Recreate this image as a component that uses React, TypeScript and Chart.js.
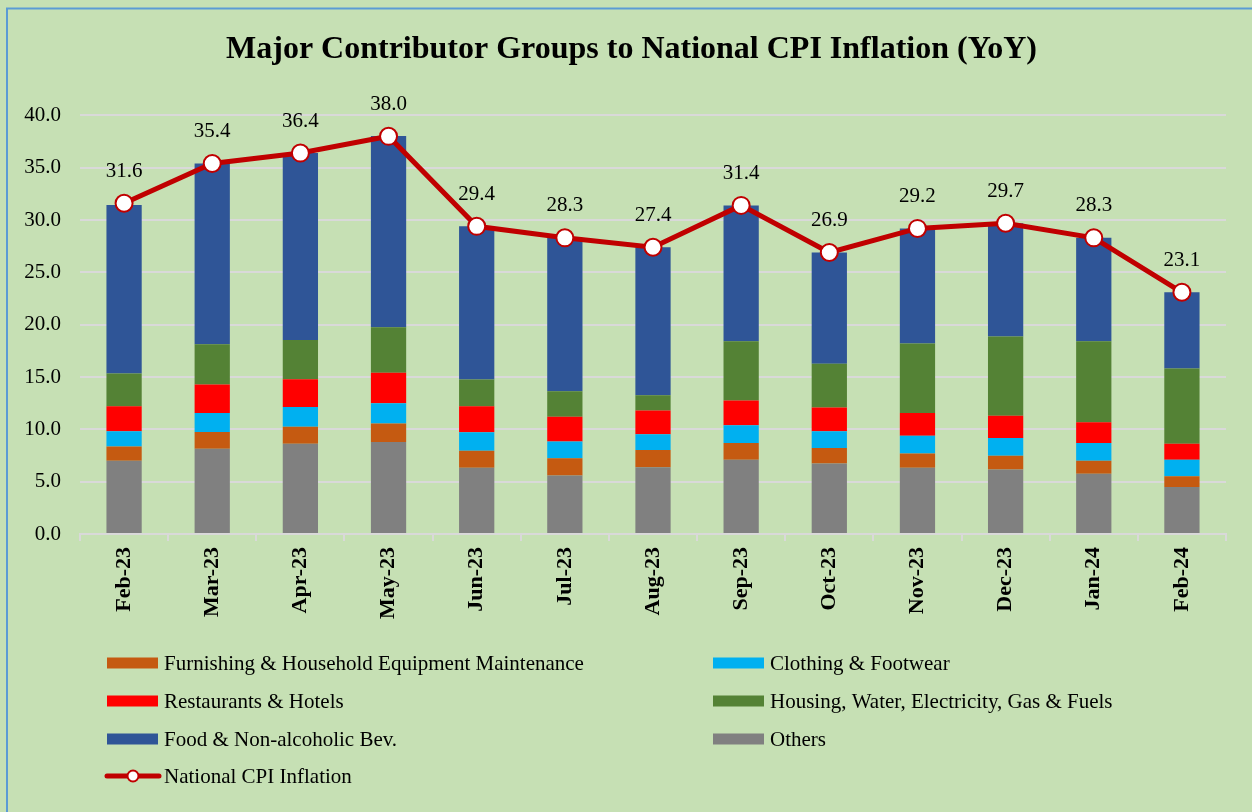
import React, { useEffect, useRef } from "react";
import { Chart, registerables } from "chart.js";

Chart.register(...registerables);

const categories = ["Feb-23", "Mar-23", "Apr-23", "May-23", "Jun-23", "Jul-23", "Aug-23", "Sep-23", "Oct-23", "Nov-23", "Dec-23", "Jan-24", "Feb-24"];
const others = [7.0, 8.15, 8.63, 8.79, 6.33, 5.59, 6.39, 7.09, 6.74, 6.33, 6.17, 5.75, 4.5];
const furnishing = [1.37, 1.6, 1.63, 1.76, 1.63, 1.66, 1.63, 1.6, 1.47, 1.37, 1.31, 1.25, 1.03];
const clothing = [1.44, 1.82, 1.88, 1.95, 1.76, 1.6, 1.5, 1.69, 1.6, 1.69, 1.69, 1.69, 1.56];
const restaurants = [2.4, 2.72, 2.65, 2.91, 2.49, 2.36, 2.27, 2.37, 2.27, 2.18, 2.14, 1.98, 1.54];
const housing = [3.13, 3.83, 3.74, 4.35, 2.56, 2.43, 1.47, 5.68, 4.18, 6.64, 7.57, 7.76, 7.18];
const food = [16.1, 17.28, 17.87, 18.26, 14.64, 14.66, 14.14, 12.97, 10.64, 10.99, 10.82, 9.87, 7.29];
const cpi = [31.6, 35.4, 36.4, 38.0, 29.4, 28.3, 27.4, 31.4, 26.9, 29.2, 29.7, 28.3, 23.1];

const yTicks = [0, 5, 10, 15, 20, 25, 30, 35, 40];

const TITLE = "Major Contributor Groups to National CPI Inflation (YoY)";
const SERIF = '"Liberation Serif", "Times New Roman", Times, serif';
const BG = "#C6E0B4";

const LABELS = {
  others: "Others",
  furnishing: "Furnishing & Household Equipment Maintenance",
  clothing: "Clothing & Footwear",
  restaurants: "Restaurants & Hotels",
  housing: "Housing, Water, Electricity, Gas & Fuels",
  food: "Food & Non-alcoholic Bev.",
  cpi: "National CPI Inflation",
};

const COLORS = {
  others: "#808080",
  furnishing: "#C55A11",
  clothing: "#00B0F0",
  restaurants: "#FF0000",
  housing: "#548235",
  food: "#2F5597",
  cpi: "#C00000",
};

// legend layout: [dataset index] in reading order (two columns)
const legendOrder = [1, 2, 3, 4, 5, 0, 6];

const bgPlugin = {
  id: "bgBorder",
  beforeDraw(chart: any) {
    const { ctx, width, height } = chart;
    ctx.save();
    ctx.fillStyle = BG;
    ctx.fillRect(0, 0, width, height);
    ctx.strokeStyle = "#5B9BD5";
    ctx.lineWidth = 2;
    ctx.beginPath();
    ctx.moveTo(7, height);
    ctx.lineTo(7, 8.5);
    ctx.lineTo(width, 8.5);
    ctx.stroke();
    ctx.restore();
  },
};

const dataLabelPlugin = {
  id: "cpiLabels",
  afterDatasetsDraw(chart: any) {
    const { ctx } = chart;
    const idx = chart.data.datasets.findIndex((d: any) => d.type === "line");
    const meta = chart.getDatasetMeta(idx);
    const values = chart.data.datasets[idx].data;
    ctx.save();
    ctx.fillStyle = "#000";
    ctx.font = `21px ${SERIF}`;
    ctx.textAlign = "center";
    ctx.textBaseline = "middle";
    meta.data.forEach((pt: any, i: number) => {
      ctx.fillText(Number(values[i]).toFixed(1), pt.x, pt.y - 32);
    });
    ctx.restore();
  },
};

const legendPlugin = {
  id: "gridLegend",
  afterDraw(chart: any) {
    const { ctx } = chart;
    const colX = [107, 713];
    const rowY = [663, 701, 739, 776];
    ctx.save();
    ctx.font = `21px ${SERIF}`;
    ctx.textBaseline = "middle";
    ctx.textAlign = "left";
    legendOrder.forEach((dsIndex, k) => {
      const ds = chart.data.datasets[dsIndex];
      const x = colX[k % 2];
      const y = rowY[Math.floor(k / 2)];
      if (ds.type === "line") {
        ctx.strokeStyle = ds.borderColor;
        ctx.lineWidth = 5;
        ctx.lineCap = "round";
        ctx.beginPath();
        ctx.moveTo(x, y);
        ctx.lineTo(x + 52, y);
        ctx.stroke();
        ctx.beginPath();
        ctx.arc(x + 26, y, 5.5, 0, Math.PI * 2);
        ctx.fillStyle = "#FFFFFF";
        ctx.fill();
        ctx.lineWidth = 2;
        ctx.stroke();
      } else {
        ctx.fillStyle = ds.backgroundColor;
        ctx.fillRect(x, y - 5.5, 51, 11);
      }
      ctx.fillStyle = "#000";
      ctx.fillText(ds.label, x + 57, y + 1);
    });
    ctx.restore();
  },
};

function barSet(key: keyof typeof LABELS, data: number[]) {
  return {
    type: "bar" as const,
    label: LABELS[key],
    data,
    backgroundColor: COLORS[key],
    borderWidth: 0,
    stack: "groups",
    order: 2,
    categoryPercentage: 1,
    barPercentage: 0.4,
  };
}

export default function App() {
  const canvasRef = useRef<HTMLCanvasElement | null>(null);

  useEffect(() => {
    document.body.style.margin = "0";
    document.body.style.background = BG;
    const canvas = canvasRef.current;
    if (!canvas) return;
    const chart = new Chart(canvas, {
      data: {
        labels: categories,
        datasets: [
          barSet("others", others),
          barSet("furnishing", furnishing),
          barSet("clothing", clothing),
          barSet("restaurants", restaurants),
          barSet("housing", housing),
          barSet("food", food),
          {
            type: "line" as const,
            label: LABELS.cpi,
            data: cpi,
            borderColor: COLORS.cpi,
            borderWidth: 5,
            pointRadius: 8.5,
            pointBorderWidth: 2,
            pointBackgroundColor: "#FFFFFF",
            pointBorderColor: COLORS.cpi,
            tension: 0,
            stack: "cpi",
            order: 0,
          } as any,
        ],
      },
      options: {
        responsive: false,
        animation: false,
        layout: { padding: { left: 11, right: 0, top: 0, bottom: 178 } },
        plugins: {
          legend: { display: false },
          tooltip: { enabled: false },
          title: {
            display: true,
            text: TITLE,
            color: "#000",
            font: { family: SERIF, size: 32, weight: "bold" },
            padding: { top: 31, bottom: 46 },
          },
        },
        scales: {
          x: {
            stacked: true,
            offset: true,
            afterFit: (s: any) => {
              s.height = 100;
            },
            grid: {
              display: true,
              drawOnChartArea: false,
              drawTicks: true,
              tickLength: 7,
              color: "#D9D9D9",
              lineWidth: 2,
              offset: true,
            },
            border: { display: true, color: "#D9D9D9", width: 2 },
            ticks: {
              color: "#000",
              font: { family: SERIF, size: 22, weight: "bold" },
              minRotation: 90,
              maxRotation: 90,
              padding: 6,
              autoSkip: false,
            },
          },
          y: {
            stacked: true,
            min: 0,
            max: 40,
            afterFit: (s: any) => {
              s.width = 69;
            },
            afterBuildTicks: (s: any) => {
              s.ticks = yTicks.map((v) => ({ value: v }));
            },
            grid: { color: "#D9D9D9", lineWidth: 2, drawTicks: false },
            border: { display: false },
            ticks: {
              color: "#000",
              font: { family: SERIF, size: 21 },
              padding: 19,
              callback: (v: any) => Number(v).toFixed(1),
            },
          },
          yRightSpace: {
            type: "linear",
            position: "right",
            display: true,
            min: 0,
            max: 40,
            afterFit: (s: any) => {
              s.width = 26;
            },
            grid: { display: false, drawTicks: false },
            border: { display: false },
            ticks: { display: false },
          },
        },
      } as any,
      plugins: [bgPlugin, dataLabelPlugin, legendPlugin],
    });
    return () => chart.destroy();
  }, []);

  return (
    <div style={{ width: 1252, height: 812, background: BG }}>
      <canvas ref={canvasRef} width={1252} height={812} style={{ display: "block" }} />
    </div>
  );
}
